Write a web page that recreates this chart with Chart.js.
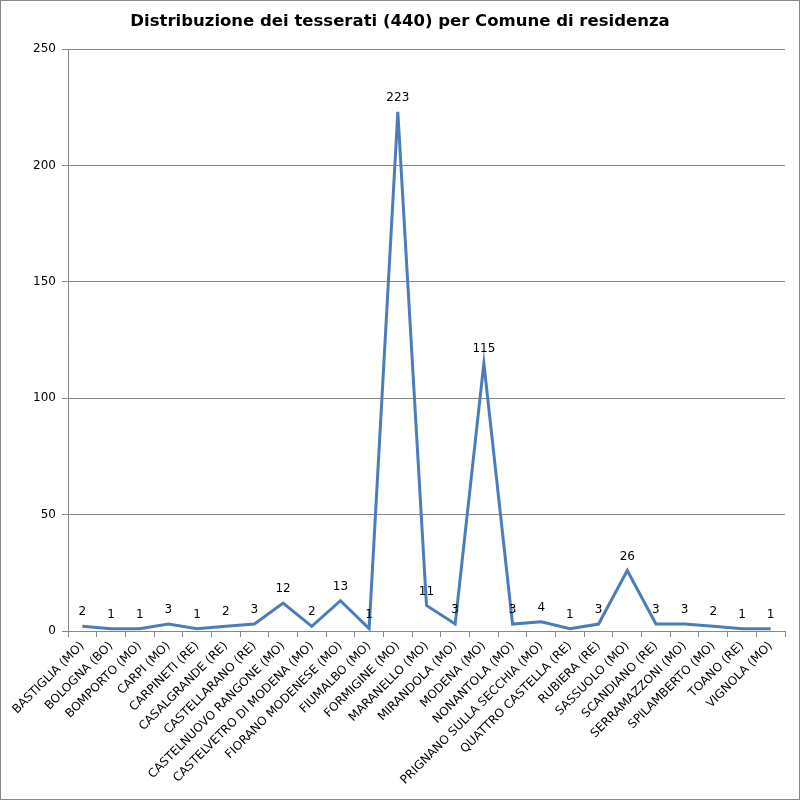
<!DOCTYPE html>
<html>
<head>
<meta charset="utf-8">
<script src="https://cdn.jsdelivr.net/npm/chart.js@4.4.0/dist/chart.umd.min.js"></script>
<style>
  body { margin: 0; background: #fff; }
  #wrap { width: 800px; height: 800px; }
</style>
</head>
<body>
<div id="wrap"><canvas id="lineGraph" width="800" height="800"></canvas></div>
<script>
var titolo = "Distribuzione dei tesserati (440) per Comune di residenza";
var comuni = [
  "BASTIGLIA (MO)", "BOLOGNA (BO)", "BOMPORTO (MO)", "CARPI (MO)", "CARPINETI (RE)",
  "CASALGRANDE (RE)", "CASTELLARANO (RE)", "CASTELNUOVO RANGONE (MO)", "CASTELVETRO DI MODENA (MO)",
  "FIORANO MODENESE (MO)", "FIUMALBO (MO)", "FORMIGINE (MO)", "MARANELLO (MO)", "MIRANDOLA (MO)",
  "MODENA (MO)", "NONANTOLA (MO)", "PRIGNANO SULLA SECCHIA (MO)", "QUATTRO CASTELLA (RE)",
  "RUBIERA (RE)", "SASSUOLO (MO)", "SCANDIANO (RE)", "SERRAMAZZONI (MO)", "SPILAMBERTO (MO)",
  "TOANO (RE)", "VIGNOLA (MO)"
];
var tesserati = [2, 1, 1, 3, 1, 2, 3, 12, 2, 13, 1, 223, 11, 3, 115, 3, 4, 1, 3, 26, 3, 3, 2, 1, 1];
var yTicks = [0, 50, 100, 150, 200, 250];

var fontFam = "'DejaVu Sans', Verdana, sans-serif";

// titolo, etichette dei valori sopra i punti, bordo esterno
var extras = {
  id: "extras",
  afterDatasetsDraw: function(chart) {
    var ctx = chart.ctx;
    var meta = chart.getDatasetMeta(0);
    ctx.save();
    ctx.fillStyle = "#000";
    ctx.font = "12px " + fontFam;
    ctx.textAlign = "center";
    ctx.textBaseline = "bottom";
    meta.data.forEach(function(pt, i) {
      ctx.fillText(String(tesserati[i]), pt.x, pt.y - 8);
    });
    ctx.restore();
  },
  afterDraw: function(chart) {
    var ctx = chart.ctx;
    ctx.save();
    ctx.fillStyle = "#000";
    ctx.font = "bold 16.5px " + fontFam;
    ctx.textAlign = "center";
    ctx.textBaseline = "middle";
    ctx.fillText(titolo, 400, 22);
    ctx.strokeStyle = "#868686";
    ctx.lineWidth = 1;
    ctx.strokeRect(0.5, 0.5, 799, 799);
    ctx.restore();
  }
};

var linechart = new Chart("lineGraph", {
  type: "line",
  data: {
    labels: comuni,
    datasets: [{
      data: tesserati,
      fill: false,
      tension: 0,
      borderColor: "#4A7EBB",
      borderWidth: 3,
      pointRadius: 0,
      pointHoverRadius: 0
    }]
  },
  options: {
    responsive: false,
    animation: false,
    layout: { padding: { top: 49, right: 15, bottom: 0, left: 0 } },
    plugins: {
      legend: { display: false },
      tooltip: { enabled: false },
      title: { display: false }
    },
    scales: {
      y: {
        min: 0,
        max: 250,
        afterFit: function(s) { s.width = 68; },
        afterBuildTicks: function(s) { s.ticks = yTicks.map(function(v) { return { value: v }; }); },
        ticks: { color: "#000", font: { family: fontFam, size: 12 }, padding: 6 },
        grid: { color: "#868686", lineWidth: 1, tickLength: 6, tickColor: "#868686" },
        border: { color: "#868686" }
      },
      x: {
        offset: true,
        afterFit: function(s) { s.height = 169; },
        ticks: {
          color: "#000",
          font: { family: fontFam, size: 12 },
          minRotation: 45,
          maxRotation: 45,
          autoSkip: false,
          padding: 2
        },
        grid: { drawOnChartArea: false, offset: true, tickLength: 6, color: "#868686" },
        border: { color: "#868686" }
      }
    }
  },
  plugins: [extras]
});
linechart.update();
</script>
</body>
</html>
